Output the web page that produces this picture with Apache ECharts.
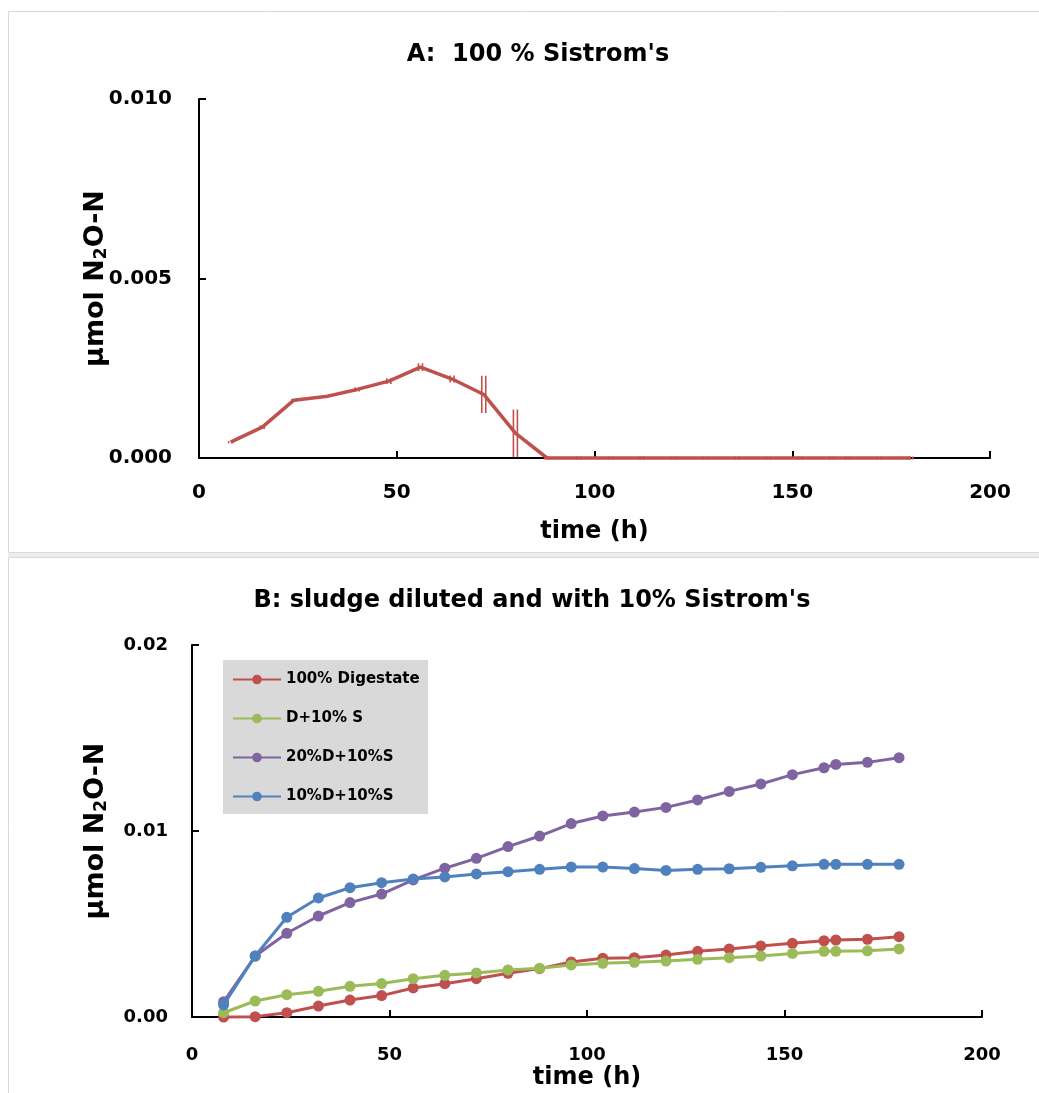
<!DOCTYPE html>
<html>
<head>
<meta charset="utf-8">
<script src="https://cdn.jsdelivr.net/npm/echarts@6/dist/echarts.min.js"></script>
<style>
  html, body { margin: 0; padding: 0; background: #fff; }
  #chart { width: 1039px; height: 1093px; }
</style>
</head>
<body>
<div id="chart"></div>
<script>
// Panel A: 100 % Sistrom's medium
const timesA = [8, 16, 24, 32, 40, 48, 56, 64, 72, 80, 88, 96, 104, 112, 120, 128, 136, 144, 152, 160, 164, 172, 180];
const sistromA = [0.00044, 0.00086, 0.00161, 0.00171, 0.00191, 0.00214, 0.00253, 0.00220, 0.00177, 0.00069,
  0, 0, 0, 0, 0, 0, 0, 0, 0, 0, 0, 0, 0];
const sistromErrA = [0.00003, 0.00005, 0.00004, 0.00004, 0.00006, 0.00008, 0.00011, 0.00010, 0.00052, 0.00066,
  0.00004, 0.00004, 0.00004, 0.00004, 0.00004, 0.00004, 0.00004, 0.00004, 0.00004, 0.00004, 0.00004, 0.00004, 0.00004];

// Panel B: sludge diluted and with 10% Sistrom's
const timesB = [8, 16, 24, 32, 40, 48, 56, 64, 72, 80, 88, 96, 104, 112, 120, 128, 136, 144, 152, 160, 163, 171, 179];
const digestate100 = [0, 0.00002, 0.00023, 0.00059, 0.00091, 0.00115, 0.00156, 0.00179, 0.00206, 0.00235, 0.00260, 0.00296,
  0.00316, 0.00319, 0.00333, 0.00353, 0.00366, 0.00382, 0.00396, 0.00410, 0.00414, 0.00418, 0.00432];
const dPlus10S = [0.00023, 0.00086, 0.00120, 0.00138, 0.00165, 0.00180, 0.00206, 0.00224, 0.00237, 0.00253, 0.00262, 0.00280,
  0.00289, 0.00294, 0.00301, 0.00310, 0.00319, 0.00328, 0.00342, 0.00353, 0.00353, 0.00356, 0.00366];
const d20S10 = [0.00082, 0.00328, 0.00450, 0.00543, 0.00615, 0.00661, 0.00737, 0.00800, 0.00853, 0.00916, 0.00973, 0.01040,
  0.01081, 0.01102, 0.01127, 0.01167, 0.01213, 0.01253, 0.01303, 0.01340, 0.01358, 0.01369, 0.01394];
const d10S10 = [0.00065, 0.00328, 0.00536, 0.00640, 0.00695, 0.00722, 0.00742, 0.00753, 0.00769, 0.00781, 0.00794, 0.00806,
  0.00806, 0.00798, 0.00788, 0.00794, 0.00797, 0.00805, 0.00813, 0.00821, 0.00821, 0.00821, 0.00821];

const seriesNamesB = ['100% Digestate', 'D+10% S', '20%D+10%S', '10%D+10%S'];
const seriesValuesB = [digestate100, dPlus10S, d20S10, d10S10];
const colorsB = ['#C0504D', '#9BBB59', '#8064A2', '#4F81BD'];

const FONT = '"DejaVu Sans", "Open Sans", sans-serif';
const AXIS_COLOR = '#000';

function yName(size) {
  return {
    name: '{a|μmol N}{s|2}{a|O-N}',
    nameMoveOverlap: false,
    nameTextStyle: {
      rich: {
        a: { fontFamily: FONT, fontWeight: 'bold', fontSize: size, color: '#000' },
        s: { fontFamily: FONT, fontWeight: 'bold', fontSize: Math.round(size * 0.62), color: '#000',
             verticalAlign: 'bottom', padding: [Math.round(size * 0.45), 0, 0, 0] }
      }
    }
  };
}

function xAxisCfg(gridIndex, nameGap, labelMargin, labelSize) {
  return {
    type: 'value', gridIndex, min: 0, max: 200, interval: 50,
    name: 'time (h)', nameLocation: 'middle', nameGap,
    nameTextStyle: { fontFamily: FONT, fontWeight: 'bold', fontSize: 24, color: '#000' },
    axisLine: { lineStyle: { color: AXIS_COLOR, width: 2 } },
    axisTick: { inside: true, length: 7, lineStyle: { color: AXIS_COLOR, width: 2 } },
    axisLabel: { margin: labelMargin, fontFamily: FONT, fontWeight: 'bold', fontSize: labelSize, color: '#000' },
    splitLine: { show: false }
  };
}

function yAxisCfg(gridIndex, max, interval, digits, nameGap, labelMargin, labelSize) {
  return Object.assign({
    type: 'value', gridIndex, min: 0, max, interval,
    nameLocation: 'middle', nameGap, nameRotate: 90,
    axisLine: { show: true, lineStyle: { color: AXIS_COLOR, width: 2 } },
    axisTick: { show: true, inside: true, length: 7, lineStyle: { color: AXIS_COLOR, width: 2 } },
    axisLabel: {
      margin: labelMargin, fontFamily: FONT, fontWeight: 'bold', fontSize: labelSize, color: '#000',
      formatter: v => v.toFixed(digits)
    },
    splitLine: { show: false }
  }, yName(27));
}

const lineSeriesB = seriesNamesB.map((name, i) => ({
  name,
  type: 'line',
  xAxisIndex: 1, yAxisIndex: 1,
  data: timesB.map((t, j) => [t, seriesValuesB[i][j]]),
  color: colorsB[i],
  lineStyle: { width: 3, color: colorsB[i] },
  symbol: 'circle', symbolSize: 11,
  itemStyle: { color: colorsB[i] },
  clip: false,
  z: 3 + i
}));

const option = {
  backgroundColor: '#fff',
  animation: false,
  graphic: [
    { type: 'rect', shape: { x: 8, y: 553, width: 1040, height: 4 }, style: { fill: '#EDEDED' }, silent: true },
    { type: 'rect', shape: { x: 8.5, y: 11.5, width: 1040, height: 541 }, style: { fill: 'none', stroke: '#D9D9D9', lineWidth: 1 }, silent: true },
    { type: 'rect', shape: { x: 8.5, y: 557.5, width: 1040, height: 545 }, style: { fill: 'none', stroke: '#D9D9D9', lineWidth: 1 }, silent: true },
    { type: 'rect', shape: { x: 223, y: 660, width: 205, height: 154 }, style: { fill: '#D9D9D9' }, silent: true, z: 1 }
  ],
  title: [
    { text: "A:  100 % Sistrom's", left: 533, top: 38, textAlign: 'center',
      textStyle: { fontFamily: FONT, fontWeight: 'bold', fontSize: 24, color: '#000' } },
    { text: "B: sludge diluted and with 10% Sistrom's", left: 527, top: 584, textAlign: 'center',
      textStyle: { fontFamily: FONT, fontWeight: 'bold', fontSize: 24, color: '#000' } }
  ],
  legend: {
    data: seriesNamesB,
    orient: 'vertical',
    left: 232, top: 672,
    padding: 0,
    itemWidth: 48, itemHeight: 12, itemGap: 24,
    textStyle: { fontFamily: FONT, fontWeight: 'bold', fontSize: 15, color: '#000' },
    z: 10
  },
  grid: [
    { left: 199, top: 99, width: 791, height: 359, containLabel: false },
    { left: 192, top: 645, width: 790, height: 372, containLabel: false }
  ],
  xAxis: [xAxisCfg(0, 62, 25, 20), xAxisCfg(1, 49, 29, 18)],
  yAxis: [
    yAxisCfg(0, 0.010, 0.005, 3, 89, 27, 20),
    yAxisCfg(1, 0.02, 0.01, 2, 82, 24, 18)
  ],
  series: [
    {
      name: "100 % Sistrom's",
      type: 'line',
      xAxisIndex: 0, yAxisIndex: 0,
      data: timesA.map((t, i) => [t, sistromA[i]]),
      lineStyle: { width: 3.5, color: '#C0504D' },
      showSymbol: false,
      symbol: 'none',
      clip: false,
      z: 3
    },
    {
      name: "100 % Sistrom's error",
      type: 'custom',
      xAxisIndex: 0, yAxisIndex: 0,
      data: timesA.map((t, i) => [t, sistromA[i], sistromErrA[i]]),
      clip: false,
      z: 4,
      renderItem: function (params, api) {
        const x = api.value(0), y = api.value(1), e = api.value(2);
        const top = api.coord([x, y + e]);
        const bot = api.coord([x, y - e]);
        const style = { stroke: '#C0504D', lineWidth: 1.6 };
        return {
          type: 'group',
          children: [-2, 2].map(dx => ({
            type: 'line',
            shape: { x1: top[0] + dx, y1: top[1], x2: bot[0] + dx, y2: bot[1] },
            style
          }))
        };
      }
    }
  ].concat(lineSeriesB)
};

const chart = echarts.init(document.getElementById('chart'), null, { renderer: 'canvas' });
chart.setOption(option);
</script>
</body>
</html>
